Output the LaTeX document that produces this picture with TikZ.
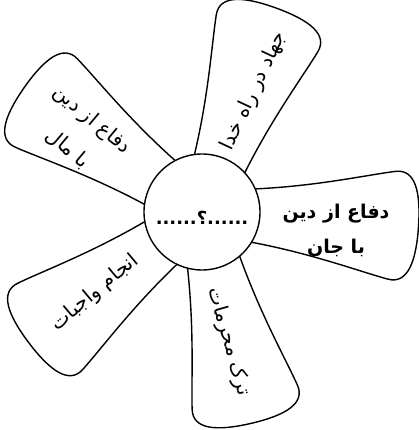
\documentclass[tikz,border=0pt]{standalone}
\usepackage{fontspec}
\newfontfamily\arabicfont[Script=Arabic]{DejaVu Sans}
\TeXXeTstate=1
\begin{document}
\begin{tikzpicture}[x=1pt,y=1pt,line width=1.4pt,
  petal/.style={draw=black,fill=white,line join=round},
  ptext/.style={font=\arabicfont\fontsize{20}{38}\selectfont,align=center,inner sep=0pt},
  hub/.style={circle,draw=black,fill=white,minimum size=116pt,inner sep=0pt}]
\useasboundingbox (0,0) rectangle (418,430);
\coordinate (C) at (202,218);
\foreach \a in {-4,70,145,217,283} {
  \draw[petal,shift={(C)},rotate=\a] (45,-26) .. controls (110,-33) and (160,-48) .. (190,-54)
    .. controls (210,-58) and (217,-35) .. (217,0)
    .. controls (217,35) and (210,58) .. (190,54)
    .. controls (160,48) and (110,33) .. (45,26) -- cycle;
}
\node[hub] (hub) at (C) {};
\node[ptext,font=\arabicfont\bfseries\fontsize{18}{30}\selectfont] (q) at (202,212) {\beginR......؟......\endR};
\node[ptext,rotate=65] (t1) at (254,339) {\beginR جهاد در راه خدا\endR};
\node[ptext,rotate=-40] (t2) at (80,296) {\beginR دفاع از دین\endR\\\beginR با مال\endR};
\node[ptext,font=\arabicfont\bfseries\fontsize{19}{35}\selectfont] (t3) at (336,200) {\beginR دفاع از دین\endR\\\beginR با جان\endR};
\node[ptext,rotate=40] (t4) at (95,137) {\beginR انجام واجبات\endR};
\node[ptext,rotate=-74] (t5) at (229,88) {\beginR ترک محرمات\endR};
\end{tikzpicture}
\end{document}
